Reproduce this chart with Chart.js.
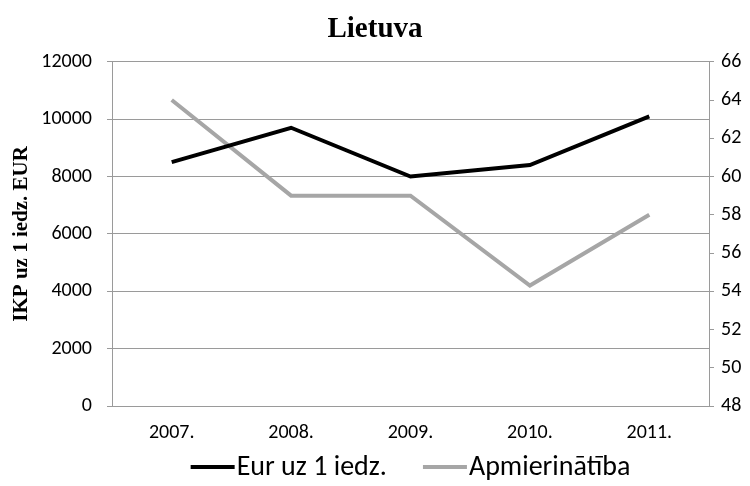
<!DOCTYPE html>
<html>
<head>
<meta charset="utf-8">
<script src="https://cdn.jsdelivr.net/npm/chart.js@4"></script>
<style>
  html, body { margin: 0; padding: 0; background: #fff; }
  #wrap { width: 750px; height: 486px; }
</style>
</head>
<body>
<div id="wrap"><canvas id="chart" width="750" height="486"></canvas></div>
<script>
// data
const years = ['2007.', '2008.', '2009.', '2010.', '2011.'];
const eurPerCapita = [8500, 9700, 8000, 8400, 10100];
const satisfaction = [64, 59, 59, 54.3, 58];
const leftTicks = [0, 2000, 4000, 6000, 8000, 10000, 12000];
const rightTicks = [48, 50, 52, 54, 56, 58, 60, 62, 64, 66];

const sans = "Carlito, 'Liberation Sans', sans-serif";
const gridGrey = '#9a9a9a';

// legend drawn by hand so the label sits right after its line, like the original
const lineLegend = {
    id: 'lineLegend',
    afterDraw(chart) {
        const c = chart.ctx;
        const area = chart.chartArea;
        const lineLen = 44, gap = 36;
        c.save();
        c.font = '28px ' + sans;
        c.textBaseline = 'middle';
        const sets = chart.data.datasets;
        const widths = sets.map(ds => lineLen + 2 + c.measureText(ds.label).width);
        const total = widths.reduce((a, b) => a + b, 0) + gap * (sets.length - 1);
        let x = (area.left + area.right) / 2 - total / 2;
        const y = 467;
        sets.forEach((ds, i) => {
            c.strokeStyle = ds.borderColor;
            c.lineWidth = 4;
            c.beginPath();
            c.moveTo(x, y);
            c.lineTo(x + lineLen, y);
            c.stroke();
            c.fillStyle = '#000';
            c.fillText(ds.label, x + lineLen + 2, y + 1);
            x += widths[i] + gap;
        });
        c.restore();
    }
};

const ctx = document.getElementById('chart').getContext('2d');
new Chart(ctx, {
    type: 'line',
    data: {
        labels: years,
        datasets: [{
            label: 'Eur uz 1 iedz.',
            data: eurPerCapita,
            borderColor: '#000000',
            borderWidth: 4,
            pointRadius: 0,
            tension: 0,
            yAxisID: 'y'
        }, {
            label: 'Apmierinātība',
            data: satisfaction,
            borderColor: '#a6a6a6',
            borderWidth: 4,
            pointRadius: 0,
            tension: 0,
            yAxisID: 'y2'
        }]
    },
    plugins: [lineLegend],
    options: {
        responsive: false,
        animation: false,
        layout: { padding: { left: 0, right: 0, top: 0, bottom: 40 } },
        plugins: {
            title: {
                display: true,
                text: 'Lietuva',
                color: '#000',
                font: { family: "'Liberation Serif', serif", size: 29, weight: 'bold' },
                padding: { top: 12, bottom: 15 }
            },
            legend: { display: false },
            tooltip: { enabled: false }
        },
        scales: {
            x: {
                offset: true,
                grid: { display: false },
                border: { display: true, color: gridGrey },
                ticks: { color: '#000', font: { family: sans, size: 20 }, padding: 7 },
                afterFit: function(scale) { scale.height = 40; }
            },
            y: {
                position: 'left',
                min: 0,
                max: 12000,
                afterBuildTicks: function(scale) { scale.ticks = leftTicks.map(v => ({ value: v })); },
                grid: { color: gridGrey, tickLength: 5, drawTicks: true },
                border: { display: true, color: gridGrey },
                ticks: {
                    color: '#000',
                    font: { family: sans, size: 20 },
                    padding: 15,
                    callback: v => String(v)
                },
                title: {
                    display: true,
                    text: 'IKP uz 1 iedz. EUR',
                    color: '#000',
                    font: { family: "'Liberation Serif', serif", size: 21, weight: 'bold' },
                    padding: { top: 9, bottom: 0 }
                },
                afterFit: function(scale) { scale.width = 112; }
            },
            y2: {
                position: 'right',
                min: 48,
                max: 66,
                afterBuildTicks: function(scale) { scale.ticks = rightTicks.map(v => ({ value: v })); },
                grid: { display: true, drawOnChartArea: false, color: gridGrey, tickLength: 5 },
                border: { display: true, color: gridGrey },
                ticks: { color: '#000', font: { family: sans, size: 20 }, padding: 7 },
                afterFit: function(scale) { scale.width = 41; }
            }
        }
    }
});
</script>
</body>
</html>
